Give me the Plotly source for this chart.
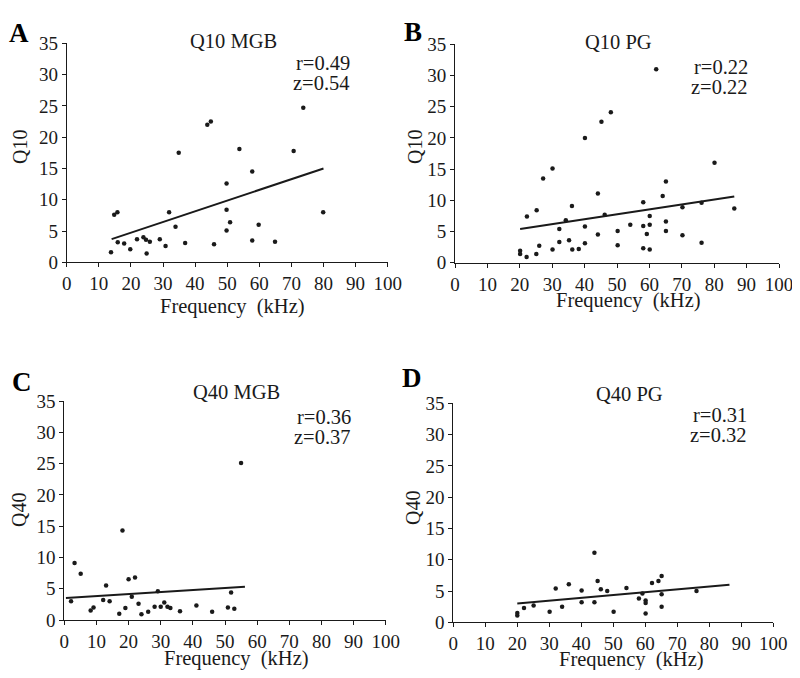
import plotly.graph_objects as go

# page body has an 8px margin, so the figure is 16px smaller than the window
OFF = 8
W, H = 800 - 2 * OFF, 678 - 2 * OFF

# ---------------- data ----------------
a_freq = [13.8, 14.8, 15.8, 15.9, 17.9, 19.8, 21.9, 23.9, 24.7, 24.9, 25.9, 29.0, 30.8, 31.9,
          33.9, 34.9, 36.9, 43.8, 44.9, 45.9, 49.8, 49.8, 49.8, 50.9, 53.8, 57.8, 57.8, 59.8,
          64.9, 70.7, 73.7, 79.9]
a_q = [1.6, 7.6, 8.0, 3.2, 3.0, 2.1, 3.7, 4.0, 3.6, 1.4, 3.3, 3.7, 2.6, 8.0,
       5.7, 17.5, 3.1, 22.0, 22.5, 2.9, 12.6, 8.4, 5.1, 6.4, 18.1, 14.5, 3.5, 6.0,
       3.3, 17.8, 24.7, 8.0]
a_fit_x = [14.0, 80.0]
a_fit_y = [3.7, 15.0]

b_freq = [20.1, 20.1, 22.1, 22.2, 25.1, 25.2, 26.0, 27.2, 30.1, 30.1, 32.2, 32.2, 34.2, 35.2,
          36.1, 36.2, 38.2, 40.1, 40.1, 40.1, 44.1, 44.1, 45.2, 46.2, 48.1, 50.2, 50.2, 54.1,
          58.1, 58.1, 58.1, 59.2, 60.1, 60.1, 60.1, 62.1, 64.1, 65.1, 65.1, 65.1, 70.2, 70.2,
          76.1, 76.1, 80.1, 86.2]
b_q = [1.9, 1.4, 0.9, 7.4, 1.4, 8.4, 2.7, 13.5, 2.1, 15.1, 5.4, 3.3, 6.8, 3.6,
       9.1, 2.1, 2.2, 20.0, 5.8, 3.1, 11.1, 4.5, 22.6, 7.7, 24.1, 5.1, 2.8, 6.1,
       9.7, 5.9, 2.3, 4.6, 7.5, 6.1, 2.1, 31.0, 10.7, 13.0, 6.6, 5.1, 8.9, 4.4,
       9.6, 3.2, 16.0, 8.7]
b_fit_x = [20.1, 86.2]
b_fit_y = [5.4, 10.6]

c_freq = [2.1, 3.2, 5.1, 8.2, 9.1, 12.1, 13.0, 14.1, 17.1, 18.1, 19.0, 20.0, 21.0, 22.0,
          23.1, 24.0, 26.1, 28.1, 29.1, 30.0, 31.1, 32.1, 33.0, 36.0, 41.1, 46.0, 50.9, 51.9,
          52.9, 55.0]
c_q = [3.0, 9.1, 7.4, 1.5, 2.0, 3.2, 5.5, 3.0, 1.0, 14.3, 1.9, 6.5, 3.7, 6.8,
       2.6, 0.9, 1.3, 2.1, 4.6, 2.1, 2.8, 2.1, 1.9, 1.4, 2.3, 1.3, 2.0, 4.4,
       1.8, 25.1]
c_fit_x = [0.5, 56.2]
c_fit_y = [3.5, 5.3]

d_freq = [20.0, 20.0, 22.1, 25.1, 30.1, 32.0, 34.0, 36.1, 40.1, 40.1, 44.1, 44.1, 45.1, 46.1,
          48.1, 50.1, 54.1, 58.0, 59.1, 60.1, 60.1, 60.1, 62.1, 64.1, 65.1, 65.1, 65.1, 76.0]
d_q = [1.5, 1.1, 2.3, 2.7, 1.7, 5.4, 2.5, 6.1, 5.1, 3.2, 11.1, 3.2, 6.6, 5.3,
       5.0, 1.7, 5.5, 3.8, 4.6, 3.5, 3.1, 1.4, 6.3, 6.6, 7.4, 4.5, 2.5, 5.0]
d_fit_x = [20.0, 86.3]
d_fit_y = [3.0, 6.0]

x_ticks = [0, 10, 20, 30, 40, 50, 60, 70, 80, 90, 100]
y_ticks = [0, 5, 10, 15, 20, 25, 30, 35]

titles = ["Q10 MGB", "Q10 PG", "Q40 MGB", "Q40 PG"]
letters = ["A", "B", "C", "D"]
y_titles = ["Q10", "Q10", "Q40", "Q40"]
r_texts = ["r=0.49", "r=0.22", "r=0.36", "r=0.31"]
z_texts = ["z=0.54", "z=0.22", "z=0.37", "z=0.32"]

# ---------------- layout helpers (reference-window pixels -> paper) ----------------
def px(x):
    return (x - OFF) / W

def py(y):
    return 1 - (y - OFF) / H

FONT = "Liberation Serif, Times New Roman, serif"
INK = "#1a1a1a"

# plot area rectangles in window pixels: (x0, x1, ytop, ybottom)
panels = [
    (66.7, 387.7, 43.3, 262.3),
    (455.0, 779.0, 44.3, 262.7),
    (64.3, 385.7, 401.0, 620.0),
    (453.3, 773.3, 403.3, 622.3),
]
# text positions in window pixels
title_pos = [(233, 41), (618, 42), (237, 392), (629, 394)]
letter_pos = [(19, 33), (413, 32), (22, 382), (412, 378)]
ytitle_pos = [(20, 147), (415, 147), (19, 510), (413, 508)]
xtitle_pos = [(232, 306), (628, 301), (237, 658), (631, 659)]
rz_pos = [(352, 63, 83), (750, 67, 87), (353, 417, 437), (749, 415, 435)]

series = [
    (a_freq, a_q, a_fit_x, a_fit_y),
    (b_freq, b_q, b_fit_x, b_fit_y),
    (c_freq, c_q, c_fit_x, c_fit_y),
    (d_freq, d_q, d_fit_x, d_fit_y),
]

fig = go.Figure()
annotations = []
layout_axes = {}

for i, (xs, ys, fx, fy) in enumerate(series):
    n = "" if i == 0 else str(i + 1)
    xa, ya = "x" + n, "y" + n
    fig.add_trace(go.Scatter(x=xs, y=ys, mode="markers", xaxis=xa, yaxis=ya,
                             marker=dict(color=INK, size=4.5), cliponaxis=False,
                             showlegend=False))
    fig.add_trace(go.Scatter(x=fx, y=fy, mode="lines", xaxis=xa, yaxis=ya,
                             line=dict(color=INK, width=2), cliponaxis=False,
                             showlegend=False))
    x0, x1, yt, yb = panels[i]
    common = dict(showline=True, linecolor=INK, linewidth=1, ticks="outside",
                  ticklen=4, tickcolor=INK, tickwidth=1, showgrid=False,
                  zeroline=False, tickfont=dict(family=FONT, size=19, color=INK),
                  fixedrange=True, automargin=False, ticklabeloverflow="allow")
    layout_axes["xaxis" + n] = dict(common, domain=[px(x0), px(x1)], range=[0, 100],
                                    tickvals=x_ticks, anchor=ya)
    layout_axes["yaxis" + n] = dict(common, domain=[py(yb), py(yt)], range=[0, 35],
                                    tickvals=y_ticks, anchor=xa)

    tx, ty = title_pos[i]
    annotations.append(dict(text=titles[i], x=px(tx), y=py(ty), xref="paper", yref="paper",
                            showarrow=False, xanchor="center", yanchor="middle",
                            font=dict(family=FONT, size=20.5, color=INK)))
    lx, ly = letter_pos[i]
    annotations.append(dict(text="<b>" + letters[i] + "</b>", x=px(lx), y=py(ly),
                            xref="paper", yref="paper", showarrow=False,
                            xanchor="center", yanchor="middle",
                            font=dict(family=FONT, size=27, color="black")))
    yx, yy = ytitle_pos[i]
    annotations.append(dict(text=y_titles[i], x=px(yx), y=py(yy), xref="paper", yref="paper",
                            showarrow=False, xanchor="center", yanchor="middle", textangle=-90,
                            font=dict(family=FONT, size=20, color=INK)))
    xx, xy = xtitle_pos[i]
    annotations.append(dict(text="Frequency  (kHz)", x=px(xx), y=py(xy), xref="paper",
                            yref="paper", showarrow=False, xanchor="center", yanchor="middle",
                            font=dict(family=FONT, size=20.5, color=INK)))
    rx, ry, rzy = rz_pos[i]
    annotations.append(dict(text=r_texts[i], x=px(rx), y=py(ry), xref="paper", yref="paper",
                            showarrow=False, xanchor="right", yanchor="middle",
                            font=dict(family=FONT, size=20.5, color=INK)))
    annotations.append(dict(text=z_texts[i], x=px(rx), y=py(rzy), xref="paper", yref="paper",
                            showarrow=False, xanchor="right", yanchor="middle",
                            font=dict(family=FONT, size=20.5, color=INK)))

fig.update_layout(width=W, height=H,
                  margin=dict(l=0, r=0, t=0, b=0, pad=0, autoexpand=False),
                  paper_bgcolor="white", plot_bgcolor="white",
                  annotations=annotations, **layout_axes)

fig.write_html("out.html")
